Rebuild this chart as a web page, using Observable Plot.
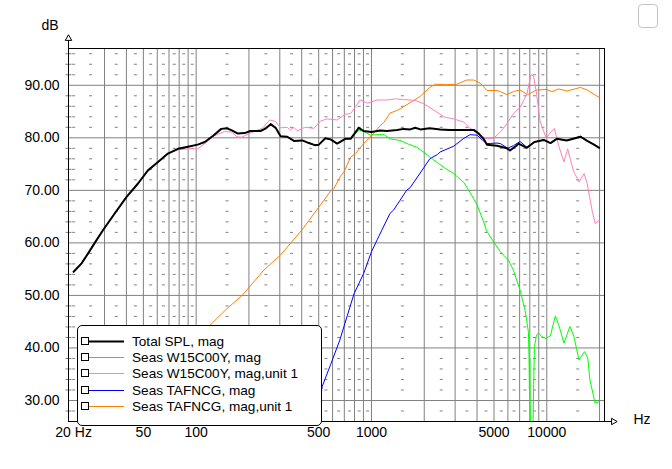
<!DOCTYPE html>
<html><head><meta charset="utf-8">
<script src="https://cdn.jsdelivr.net/npm/d3@7"></script>
<script src="https://cdn.jsdelivr.net/npm/@observablehq/plot@0.6"></script>
<style>
body{margin:0;background:#fff;font-family:"Liberation Sans",Arial,sans-serif;}
#wrap{position:relative;width:672px;height:469px;overflow:hidden}
#legend{position:absolute;left:77px;top:325px;width:243px;height:99px;border:1px solid #000;border-radius:5px;background:#fff}
#btn{position:absolute;left:638px;top:4px;width:18px;height:22px;border:1px solid #c4c4c4;border-radius:4px}
</style></head><body><div id="wrap"></div>
<script>
// ---- data: [frequency Hz, level dB] ----
const totalSPL = [[20,54.5],[22.2,56.1],[24.2,58.0],[26.4,60.0],[29.4,62.4],[34.3,65.6],[40,68.7],[46.6,71.3],[53.1,73.8],[60.6,75.4],[69,77.0],[78.7,77.9],[89.8,78.3],[102,78.7],[112,79.2],[125,80.4],[139,81.7],[150,81.8],[160,81.4],[173,80.8],[189,80.9],[204,81.3],[233,81.3],[250,81.8],[266,82.6],[284,81.9],[303,80.3],[331,80.2],[361,79.4],[403,79.5],[440,79.0],[475,78.6],[501,78.7],[546,79.9],[584,79.7],[637,78.9],[709,79.8],[760,79.8],[846,81.9],[903,81.3],[1000,81.1],[1121,81.4],[1224,81.3],[1400,81.5],[1525,81.7],[1661,81.6],[1777,81.9],[1900,81.6],[2150,81.8],[2465,81.6],[2800,81.5],[3360,81.5],[3830,81.5],[4090,80.8],[4360,79.8],[4560,78.7],[5200,78.5],[5920,78.0],[6175,77.6],[6710,78.5],[6900,78.9],[7700,78.1],[8500,79.2],[9600,79.6],[10500,79.0],[11400,79.8],[13000,79.5],[15600,80.2],[17000,79.4],[18600,78.7],[19900,78.1]];

const w15Mag = [[20,54.5],[22.2,56.1],[24.2,58.0],[26.4,60.0],[29.4,62.4],[34.3,65.6],[40,68.7],[46.6,71.3],[53.1,73.8],[60.6,75.4],[69,77.0],[78.7,77.9],[89.8,78.3],[102,78.7],[112,79.2],[125,80.4],[139,81.7],[150,81.8],[160,81.4],[173,80.8],[189,80.9],[204,81.3],[233,81.3],[250,81.8],[266,82.6],[284,81.9],[303,80.3],[331,80.2],[361,79.4],[403,79.5],[440,79.0],[475,78.6],[501,78.7],[546,79.9],[584,79.7],[637,78.9],[709,79.8],[760,79.8],[846,81.5],[903,81.2],[988,80.5],[1078,80.6],[1181,80.6],[1275,79.8],[1455,79.5],[1625,78.8],[1816,78.2],[2013,77.1],[2264,75.8],[2580,74.4],[2941,73.2],[3363,71.5],[3650,69.6],[4010,67.2],[4363,64.0],[4520,62.4],[4970,60.2],[5440,58.3],[6050,56.7],[6450,54.8],[7040,51.0],[7520,47.2],[7860,43.0],[7920,38],[7960,32],[8000,38],[8060,26],[8150,20],[8250,20],[8340,25],[8420,33],[8500,40.3],[8750,42.5],[9000,42.8],[9400,42.1],[9900,41.8],[10480,42.3],[11190,46.1],[11690,44.4],[12530,40.9],[13540,44.1],[14280,42.2],[15260,37.7],[16430,39.3],[17130,38.1],[17620,33.9],[18860,29.5],[19960,29.8]];

const w15Unit1 = [[20,54.5],[22.2,56.2],[24.2,58.1],[26.4,60.1],[29.4,62.5],[34.3,65.7],[40,68.8],[46.6,71.4],[53.1,73.8],[60.6,75.5],[69,77.0],[78.7,77.7],[89.8,77.9],[102,77.9],[112,78.9],[127,80.4],[145,81.2],[159,81.1],[171,80.2],[181,80.1],[204,80.9],[214,81.2],[238,81.8],[263,83.4],[284,83.1],[303,81.9],[331,82.0],[345,81.5],[361,82.0],[378,81.3],[403,81.8],[421,82.0],[470,81.8],[512,83.2],[559,83.6],[637,83.4],[709,84.5],[760,84.6],[811,85.9],[860,87.2],[950,86.6],[1078,87.2],[1224,87.2],[1370,87.4],[1525,87.3],[1777,87.1],[1988,86.5],[2264,85.3],[2580,84.0],[2941,83.6],[3363,83.0],[3650,81.8],[4010,81.1],[4450,79.9],[4970,79.9],[5440,81.1],[5920,82.7],[6450,84.6],[7040,85.8],[7700,88.3],[8120,92.0],[8400,91.8],[8750,88.3],[9130,83.3],[9950,79.8],[10300,80.7],[11050,81.8],[11690,78.5],[12530,75.4],[13160,77.9],[14150,73.8],[15260,71.6],[16330,73.2],[16990,71.3],[18130,66.2],[18860,63.7],[19930,64.3]];

const tafMag = [[500,28.5],[524,32.7],[584,36.8],[660,41.5],[697,44.1],[795,50.3],[903,54.2],[1000,58.3],[1078,60.6],[1145,62.4],[1275,65.6],[1341,66.3],[1455,68.1],[1586,70.0],[1661,70.5],[1988,74.3],[2151,76.0],[2374,76.8],[2465,77.3],[2941,78.4],[3363,79.9],[3650,80.6],[4010,80.5],[4280,79.6],[4560,78.9],[5196,79.0],[5440,78.9],[5917,78.1],[6050,78.1],[6450,78.5],[7040,79.3],[7700,78.2],[8500,79.2],[9600,79.6],[10500,79.0],[11400,79.8],[13000,79.5],[15600,80.3],[17000,79.4],[18600,78.7],[19900,78.1]];

const tafUnit1 = [[90,40],[124,44.8],[150,47.5],[183,50.0],[243,54.8],[303,57.7],[400,62.4],[535,68.1],[584,69.9],[610,70.3],[666,72.7],[697,73.5],[760,76.3],[811,77.0],[903,78.9],[1006,80.5],[1121,82.3],[1181,83.0],[1275,84.7],[1397,85.2],[1455,85.5],[1661,86.7],[1898,87.9],[2151,89.6],[2316,90.2],[2638,90.1],[3068,90.2],[3496,91.0],[3829,91.0],[4170,90.4],[4560,89.0],[5196,89.0],[5440,88.8],[5917,88.2],[6450,88.8],[7040,89.1],[7760,88.2],[8750,89.1],[9950,89.2],[10700,88.8],[11690,89.3],[13040,88.9],[15560,89.6],[16990,89.1],[18560,88.3],[19830,87.7]];

const seriesNames = ["Total SPL, mag","Seas W15C00Y, mag","Seas W15C00Y, mag,unit 1","Seas TAFNCG, mag","Seas TAFNCG, mag,unit 1"];
const seriesColors = ["#000000","#00ff00","#ff80c0","#0000ff","#ff8000"];
const seriesData = [totalSPL, w15Mag, w15Unit1, tafMag, tafUnit1];
const seriesWidths = [2,1,1,1,1];

// axes / grid
const majorY = [30,40,50,60,70,80,90];
const minorY = [28,32,34,36,38,42,44,46,48,52,54,56,58,62,64,66,68,72,74,76,78,82,84,86,88,92,94,96];
const majorX = [30,40,50,60,70,80,90,100,200,300,400,500,600,700,800,900,1000,2000,3000,4000,5000,6000,7000,8000,9000,10000,20000];
const minorX = [20,25,35,45,55,65,75,85,95,150,250,350,450,550,650,750,850,950,1500,2500,3500,4500,5500,6500,7500,8500,9500,15000];
const xTickValues = [20,50,100,500,1000,5000,10000];
const xTickLabels = ["20 Hz","50","100","500","1000","5000","10000"];

const xDomain = [18.7, 21340];
const yDomain = [26, 97];

const dash = w => ({draw(ctx){ ctx.moveTo(-w/2,0); ctx.lineTo(w/2,0); }});
const gridDots = minorX.flatMap(x => minorY.map(y => ({x, y})));
const font = '"Liberation Sans", Arial, sans-serif';

const lineMark = i => Plot.line(seriesData[i], {x: d => d[0], y: d => d[1], stroke: seriesColors[i], strokeWidth: seriesWidths[i], clip: true});

const plot = Plot.plot({
  width: 672, height: 469,
  marginLeft: 68, marginRight: 68, marginTop: 48, marginBottom: 48,
  style: {fontFamily: font, background: "transparent"},
  x: {type: "log", domain: xDomain, axis: null},
  y: {domain: yDomain, axis: null},
  marks: [
    Plot.ruleY(majorY, {stroke: "#808080", strokeOpacity: 1}),
    Plot.ruleX(majorX, {stroke: "#808080", strokeOpacity: 1}),
    Plot.dot(gridDots, {x: "x", y: "y", symbol: dash(3), stroke: "#808080", fill: "none", strokeWidth: 1}),
    Plot.dot(minorY, {y: d => d, frameAnchor: "left", symbol: dash(6), stroke: "#808080", fill: "none", strokeWidth: 1}),
    lineMark(4), lineMark(3), lineMark(2), lineMark(1), lineMark(0),
    Plot.frame({stroke: "#000"}),
    Plot.ruleX([xDomain[0]], {y1: yDomain[0], y2: 99.2, stroke: "#000"}),
    Plot.ruleY([yDomain[0]], {x1: xDomain[0], x2: 24300, stroke: "#000"}),
    Plot.dot([[xDomain[0], 98.9]], {x: d => d[0], y: d => d[1], symbol: "triangle", r: 2.4, fill: "#fff", stroke: "#000", strokeWidth: 1}),
    Plot.dot([[24000, yDomain[0]]], {x: d => d[0], y: d => d[1], symbol: "triangle", r: 2.4, rotate: 90, fill: "#fff", stroke: "#000", strokeWidth: 1}),
    Plot.text(majorY, {y: d => d, frameAnchor: "left", textAnchor: "end", dx: -9, text: d => d.toFixed(2), fontSize: 14, fill: "#000"}),
    Plot.text(xTickValues, {x: d => d, frameAnchor: "bottom", dy: 11, lineAnchor: "middle", text: (d, i) => xTickLabels[i], fontSize: 14, fill: "#000"}),
    Plot.text(["dB"], {frameAnchor: "top-left", textAnchor: "end", dx: -10, dy: -23, lineAnchor: "middle", fontSize: 14, fill: "#000"}),
    Plot.text(["Hz"], {frameAnchor: "bottom-right", textAnchor: "start", dx: 29, dy: -2, lineAnchor: "middle", fontSize: 14, fill: "#000"})
  ]
});

const wrap = document.getElementById("wrap");
wrap.appendChild(plot);

// legend overlay
const legend = d3.select(wrap).append("div").attr("id", "legend");
const lsvg = legend.append("svg").attr("width", 243).attr("height", 99).style("position", "absolute").style("left", "0").style("top", "0");
seriesNames.forEach((name, i) => {
  const cy = 15 + i * 16.2;
  const g = lsvg.append("g").attr("transform", `translate(0,${Math.round(cy)})`);
  g.append("rect").attr("x", 3.5).attr("y", -3.5).attr("width", 7).attr("height", 7).attr("fill", "#fff").attr("stroke", "#000");
  g.append("line").attr("x1", 11).attr("x2", 46).attr("y1", 0.5).attr("y2", 0.5).attr("stroke", seriesColors[i]).attr("stroke-width", seriesWidths[i]);
  g.append("text").attr("x", 54).attr("y", 0).attr("dy", "0.36em").attr("font-size", 13.6).attr("font-family", font).attr("fill", "#000").text(name);
});
d3.select(wrap).append("div").attr("id", "btn");
</script>
</body></html>
